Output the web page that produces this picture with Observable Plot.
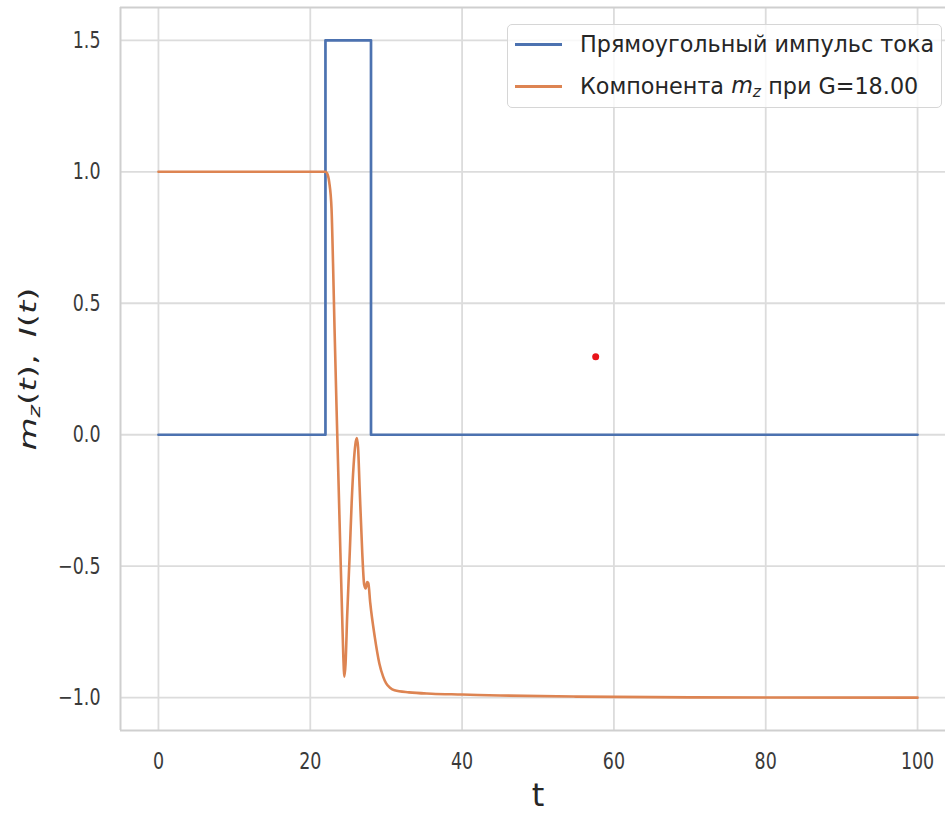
<!DOCTYPE html>
<html><head><meta charset="utf-8">
<script src="https://cdn.jsdelivr.net/npm/d3@7"></script>
<script src="https://cdn.jsdelivr.net/npm/@observablehq/plot@0.6"></script>
<style>
body{margin:0;background:#fff;}
#wrap{position:relative;width:945px;height:813px;overflow:hidden;}
#legend{position:absolute;left:507px;top:24px;width:435px;height:84px;box-sizing:border-box;border:1.5px solid #d6d6d6;border-radius:5px;background:rgba(255,255,255,0.8);font-family:"DejaVu Sans";font-size:22.3px;color:#262626;}
.row{position:absolute;left:7px;display:flex;align-items:center;height:30px;white-space:nowrap;}
.sw{width:47px;height:0;border-top:3px solid;margin-right:18px;}
.m{font-style:italic;}
.m sub{font-size:0.7em;vertical-align:-0.25em;}
</style></head>
<body>
<div id="wrap"></div>
<script>
// Rectangular current pulse I(t)
const pulseT = [0, 22, 22, 28, 28, 100];
const pulseI = [0, 0, 1.5, 1.5, 0, 0];
// m_z(t) component at G = 18.00
const mzT = [0, 22.0, 22.2, 22.5, 22.8, 23.0, 23.2, 23.5, 23.75, 23.97, 24.2, 24.35, 24.5, 24.65, 24.86, 25.2, 25.45, 25.7, 25.95, 26.14, 26.3, 26.5, 26.85, 27.1, 27.3, 27.5, 27.65, 27.9, 28.5, 29.1, 29.6, 30.0, 30.5, 31.1, 33, 36, 40, 45, 55, 70, 100];
const mzV = [1, 1, 0.995, 0.96, 0.86, 0.65, 0.40, 0.06, -0.21, -0.45, -0.69, -0.84, -0.92, -0.87, -0.69, -0.45, -0.26, -0.12, -0.035, -0.013, -0.05, -0.20, -0.45, -0.57, -0.585, -0.56, -0.565, -0.64, -0.77, -0.87, -0.92, -0.946, -0.962, -0.972, -0.98, -0.985, -0.988, -0.992, -0.996, -0.999, -1.0];
// red marker point
const markT = [57.6];
const markV = [0.297];
// ticks
const xTicks = [0, 20, 40, 60, 80, 100];
const yTicks = [-1.0, -0.5, 0.0, 0.5, 1.0, 1.5];
const yTickLabels = ["\u22121.0", "\u22120.5", "0.0", "0.5", "1.0", "1.5"];

const pulse = pulseT.map((t, i) => ({t, v: pulseI[i]}));
const mz = mzT.map((t, i) => ({t, v: mzV[i]}));
const mark = markT.map((t, i) => ({t, v: markV[i]}));

const gridStyle = {stroke: "#dcdcdc", strokeOpacity: 1, strokeWidth: 1.8};
const frameStyle = {stroke: "#cfcfcf", strokeWidth: 2};

const svg = Plot.plot({
  width: 945, height: 813,
  marginLeft: 120, marginRight: -10, marginTop: 7, marginBottom: 83,
  x: {domain: [-5, 105]},
  y: {domain: [-1.125, 1.625]},
  style: {fontFamily: "DejaVu Sans", color: "#262626", background: "white", overflow: "hidden"},
  marks: [
    Plot.gridX(xTicks, gridStyle),
    Plot.gridY(yTicks, gridStyle),
    Plot.ruleX([-5], frameStyle),
    Plot.ruleY([-1.125, 1.625], frameStyle),
    Plot.axisX(xTicks, {tickSize: 0, tickPadding: 22, fontSize: 23, label: null, tickFormat: d => String(d), fill: "#3a3a3a"}),
    Plot.axisY(yTicks, {tickSize: 0, tickPadding: 20, fontSize: 23, label: null, tickFormat: (d, i) => yTickLabels[yTicks.indexOf(d)], fill: "#3a3a3a"}),
    Plot.line(pulse, {x: "t", y: "v", stroke: "#4C72B0", strokeWidth: 2.7}),
    Plot.line(mz, {x: "t", y: "v", stroke: "#DD8452", strokeWidth: 2.6, curve: "monotone-x"}),
    Plot.dot(mark, {x: "t", y: "v", r: 3.5, fill: "#e8141a", stroke: "none"}),
    Plot.text(["t"], {frameAnchor: "bottom", dy: 75, fontSize: 32, fill: "#262626"}),
    Plot.text(["YLABEL"], {frameAnchor: "left", textAnchor: "middle", dx: -92, dy: 0, rotate: -90, fontSize: 34, fill: "#262626"})
  ]
});

// condensed tick labels
svg.querySelectorAll('g[aria-label="x-axis tick label"] text, g[aria-label="y-axis tick label"] text').forEach(t => {
  t.setAttribute("transform", (t.getAttribute("transform") || "") + " scale(0.76,1)");
});
// y label with math-style subscript
d3.select(svg).selectAll("text").filter(function() { return this.textContent === "YLABEL"; }).each(function() {
  const t = d3.select(this);
  t.text(null);
  t.append("tspan").attr("font-style", "italic").text("m");
  t.append("tspan").attr("font-style", "italic").attr("font-size", "0.7em").attr("baseline-shift", "-0.3em").text("z");
  t.append("tspan").text("(");
  t.append("tspan").attr("font-style", "italic").text("t");
  t.append("tspan").text("),\u2002");
  t.append("tspan").attr("font-style", "italic").text("I");
  t.append("tspan").text("(");
  t.append("tspan").attr("font-style", "italic").text("t");
  t.append("tspan").text(")");
  t.attr("transform", t.attr("transform") + " scale(1,0.66)");
});

const wrap = document.getElementById("wrap");
wrap.appendChild(svg);
const legend = document.createElement("div");
legend.id = "legend";
legend.innerHTML =
  '<div class="row" style="top:4px"><span class="sw" style="border-color:#4C72B0"></span>Прямоугольный импульс тока</div>' +
  '<div class="row" style="top:46px"><span class="sw" style="border-color:#DD8452"></span>Компонента&nbsp;<span class="m">m<sub>z</sub></span>&nbsp;при G=18.00</div>';
wrap.appendChild(legend);
</script>
</body></html>
